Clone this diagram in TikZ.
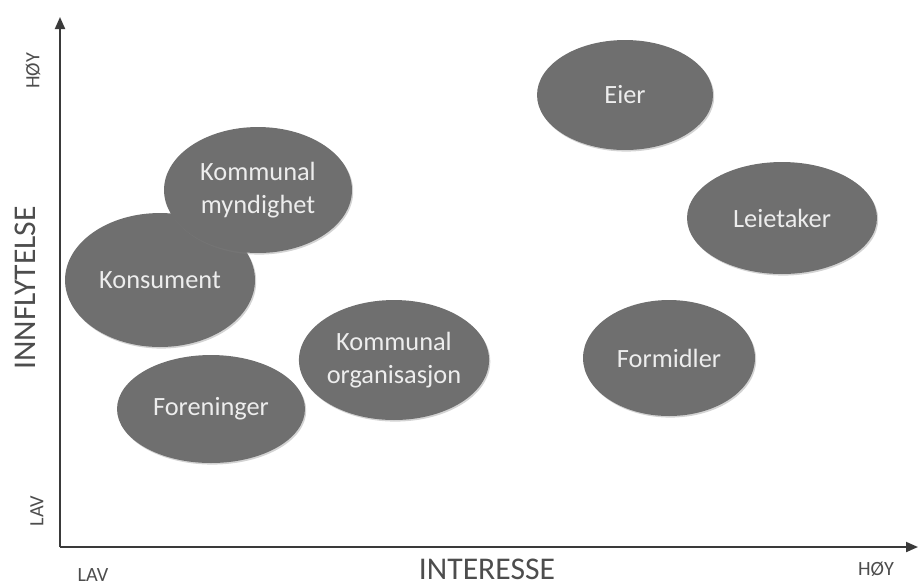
\documentclass[tikz,border=0pt]{standalone}
\usepackage{fontspec}
\setmainfont{Carlito}
\usetikzlibrary{shapes.geometric,arrows.meta,shadows}
\definecolor{bubblegray}{HTML}{6F6F6F}
\definecolor{bubbletext}{HTML}{EDEDED}
\definecolor{axisgray}{HTML}{3A3A3A}
\definecolor{labelgray}{HTML}{4D4D4D}

\begin{document}
\begin{tikzpicture}
        [x=0.02cm,y=-0.02cm,
         actor/.style={ellipse,fill=bubblegray,text=bubbletext,align=center,inner sep=0pt,
           font=\fontsize{15}{19}\selectfont,
           drop shadow={shadow xshift=0.7pt,shadow yshift=-0.9pt,opacity=0.35}},
         axis/.style={draw=axisgray,line width=1.1pt,-{Triangle[length=0.24cm,width=0.2cm]}},
         endlabel/.style={text=labelgray,inner sep=0pt,font=\fontsize{11.5}{13}\selectfont},
         axislabel/.style={text=labelgray,inner sep=0pt,font=\fontsize{18}{20}\selectfont}]
        \useasboundingbox (0,0) rectangle (918,586);

        % axes
        \coordinate (O) at (60,547);
        \coordinate (ymax) at (60,17);
        \coordinate (xmax) at (918,547);
        \draw[axis] (O) -- (ymax);
        \draw[axis] (O) -- (xmax);

        \node[endlabel,rotate=90] (yhigh) at (33,71) {HØY};
        \node[endlabel,rotate=90] (ylow) at (37,511) {LAV};
        \node[axislabel,rotate=90] (ytitle) at (25,288) {INNFLYTELSE};
        \node[endlabel] (xlow) at (93,575) {LAV};
        \node[axislabel] (xtitle) at (487,569) {INTERESSE};
        \node[endlabel] (xhigh) at (876,569) {HØY};

        % stakeholders
        \node[actor,minimum width=3.52cm,minimum height=2.2cm] (eier) at (625,95) {Eier};
        \node[actor,minimum width=3.8cm,minimum height=2.24cm] (leietaker) at (782,218) {Leietaker};
        \node[actor,minimum width=3.44cm,minimum height=2.32cm] (formidler) at (669,358) {Formidler};
        \node[actor,minimum width=3.8cm,minimum height=2.68cm] (konsument) at (160,280) {Konsument};
        \node[actor,minimum width=3.76cm,minimum height=2.52cm] (myndighet) at (258,190) {Kommunal\\myndighet};
        \node[actor,minimum width=3.36cm,minimum height=2.4cm] (organisasjon) at (394,360) {Kommunal\\organisasjon};
        \node[actor,minimum width=3.76cm,minimum height=2.16cm] (foreninger) at (211,409) {Foreninger};
      \end{tikzpicture}
\end{document}
